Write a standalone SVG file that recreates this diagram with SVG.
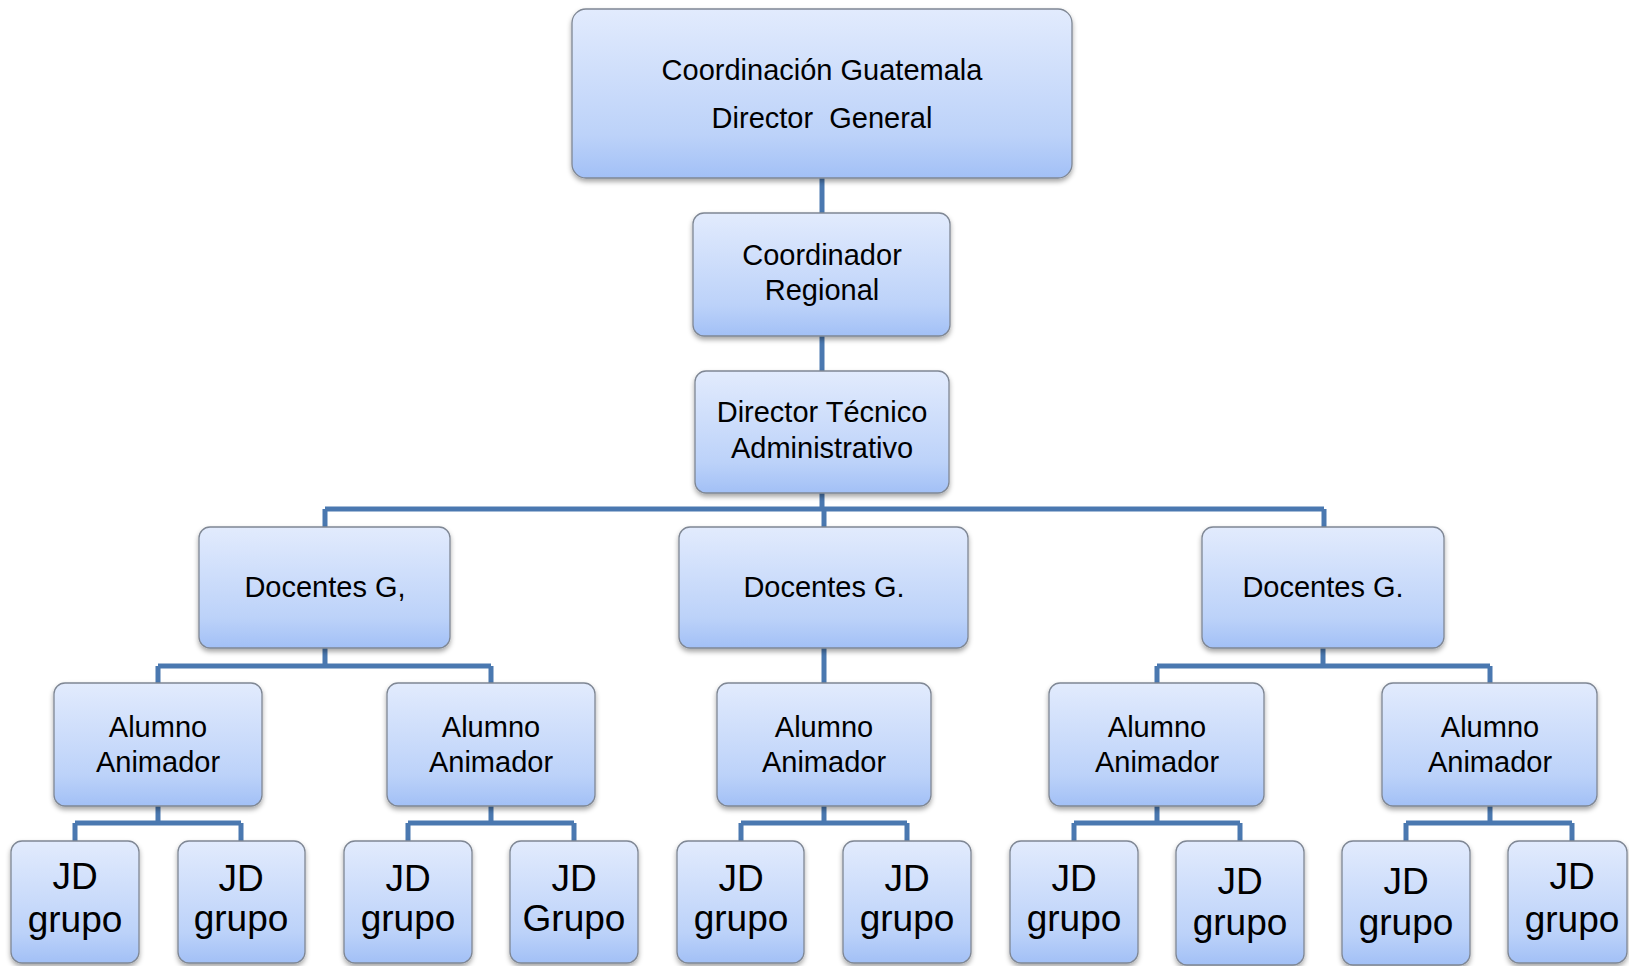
<svg xmlns="http://www.w3.org/2000/svg" width="1629" height="966" viewBox="0 0 1629 966">
<defs>
<linearGradient id="g" x1="0" y1="0" x2="0" y2="1">
<stop offset="0" stop-color="#e2ebfd"/>
<stop offset="0.75" stop-color="#bcd2f9"/>
<stop offset="1" stop-color="#a2c0f6"/>
</linearGradient>
<filter id="sh" x="-10%" y="-10%" width="120%" height="130%">
<feDropShadow dx="0" dy="3" stdDeviation="2.5" flood-color="#000" flood-opacity="0.35"/>
</filter>
</defs>
<style>
.b{fill:url(#g);stroke:#7f8794;stroke-width:1.3;filter:url(#sh)}
.t{font-family:"Liberation Sans",Arial,sans-serif;font-size:29px;fill:#000;text-anchor:middle;white-space:pre}
.j{font-family:"Liberation Sans",Arial,sans-serif;font-size:37px;fill:#000;text-anchor:middle}
.c{fill:none;stroke:#4a78b0;stroke-width:5}
</style>
<g id="connectors">
<path class="c" d="M822 178V213M822 336V371M822 493V509M325 509H1324M325 509V527M824 509V527M1324 509V527"/>
<path class="c" d="M325 648V666M158 666H491M158 666V683M491 666V683M824 648V683M1323 648V666M1157 666H1490M1157 666V683M1490 666V683"/>
<path class="c" d="M158 806V823M75 823H241M75 823V841M241 823V841M491 806V823M408 823H574M408 823V841M574 823V841M824 806V823M741 823H907M741 823V841M907 823V841M1157 806V823M1074 823H1240M1074 823V841M1240 823V841M1490 806V823M1406 823H1572M1406 823V841M1572 823V841"/>
</g>
<g id="n-top"><rect class="b" x="572" y="9" width="500" height="169" rx="14"/><text class="t" x="822" y="80">Coordinación Guatemala</text><text class="t" x="822" y="128" xml:space="preserve">Director  General</text></g>
<g id="n-regional"><rect class="b" x="693" y="213" width="257" height="123" rx="11"/><text class="t" x="822" y="265">Coordinador</text><text class="t" x="822" y="300">Regional</text></g>
<g id="n-tecnico"><rect class="b" x="695" y="371" width="254" height="122" rx="11"/><text class="t" x="822" y="422">Director Técnico</text><text class="t" x="822" y="458">Administrativo</text></g>
<g id="n-doc1"><rect class="b" x="199" y="527" width="251" height="121" rx="11"/><text class="t" x="325" y="597">Docentes G,</text></g>
<g id="n-doc2"><rect class="b" x="679" y="527" width="289" height="121" rx="11"/><text class="t" x="824" y="597">Docentes G.</text></g>
<g id="n-doc3"><rect class="b" x="1202" y="527" width="242" height="121" rx="11"/><text class="t" x="1323" y="597">Docentes G.</text></g>
<g id="n-al1"><rect class="b" x="54" y="683" width="208" height="123" rx="11"/><text class="t" x="158" y="737">Alumno</text><text class="t" x="158" y="772">Animador</text></g>
<g id="n-al2"><rect class="b" x="387" y="683" width="208" height="123" rx="11"/><text class="t" x="491" y="737">Alumno</text><text class="t" x="491" y="772">Animador</text></g>
<g id="n-al3"><rect class="b" x="717" y="683" width="214" height="123" rx="11"/><text class="t" x="824" y="737">Alumno</text><text class="t" x="824" y="772">Animador</text></g>
<g id="n-al4"><rect class="b" x="1049" y="683" width="215" height="123" rx="11"/><text class="t" x="1157" y="737">Alumno</text><text class="t" x="1157" y="772">Animador</text></g>
<g id="n-al5"><rect class="b" x="1382" y="683" width="215" height="123" rx="11"/><text class="t" x="1490" y="737">Alumno</text><text class="t" x="1490" y="772">Animador</text></g>
<g id="n-jd1"><rect class="b" x="11" y="841" width="128" height="122" rx="11"/><text class="j" x="75" y="889">JD</text><text class="j" x="75" y="932">grupo</text></g>
<g id="n-jd2"><rect class="b" x="178" y="841" width="127" height="122" rx="11"/><text class="j" x="241" y="891">JD</text><text class="j" x="241" y="931">grupo</text></g>
<g id="n-jd3"><rect class="b" x="344" y="841" width="128" height="122" rx="11"/><text class="j" x="408" y="891">JD</text><text class="j" x="408" y="931">grupo</text></g>
<g id="n-jd4"><rect class="b" x="510" y="841" width="128" height="122" rx="11"/><text class="j" x="574" y="891">JD</text><text class="j" x="574" y="931">Grupo</text></g>
<g id="n-jd5"><rect class="b" x="677" y="841" width="127" height="122" rx="11"/><text class="j" x="741" y="891">JD</text><text class="j" x="741" y="931">grupo</text></g>
<g id="n-jd6"><rect class="b" x="843" y="841" width="128" height="122" rx="11"/><text class="j" x="907" y="891">JD</text><text class="j" x="907" y="931">grupo</text></g>
<g id="n-jd7"><rect class="b" x="1010" y="841" width="128" height="122" rx="11"/><text class="j" x="1074" y="891">JD</text><text class="j" x="1074" y="931">grupo</text></g>
<g id="n-jd8"><rect class="b" x="1176" y="841" width="128" height="124" rx="11"/><text class="j" x="1240" y="894">JD</text><text class="j" x="1240" y="935">grupo</text></g>
<g id="n-jd9"><rect class="b" x="1342" y="841" width="128" height="124" rx="11"/><text class="j" x="1406" y="894">JD</text><text class="j" x="1406" y="935">grupo</text></g>
<g id="n-jd10"><rect class="b" x="1508" y="841" width="119" height="122" rx="11"/><text class="j" x="1572" y="889">JD</text><text class="j" x="1572" y="932">grupo</text></g>
</svg>
